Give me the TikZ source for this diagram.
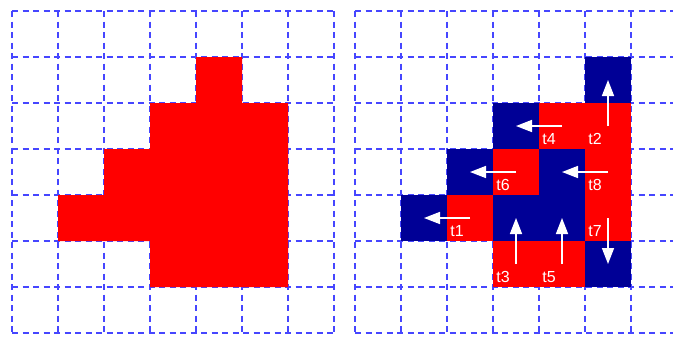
\documentclass[tikz,border=0pt]{standalone}
\usepackage{fontspec}
\setmainfont{Liberation Sans}
\usetikzlibrary{arrows.meta}
\definecolor{gridblue}{RGB}{70,70,255}
\definecolor{cellblue}{RGB}{0,0,150}
\definecolor{cellred}{RGB}{255,0,0}
\tikzset{
  gridline/.style={gridblue, line width=1.4pt, dash pattern=on 6pt off 4.5pt},
  redcell/.style={fill=cellred},
  bluecell/.style={fill=cellblue},
  movearrow/.style={white, line width=1.6pt, -{Triangle[length=16pt,width=12pt]}},
  tlabel/.style={white, font=\fontsize{16}{18}\selectfont, inner sep=0pt, anchor=center}
}
\begin{document}
\begin{tikzpicture}[x=1pt,y=-1pt]
\useasboundingbox (0,0) rectangle (673,338);
% ---------- left grid ----------
\foreach \i in {0,...,7} {
  \draw[gridline] (12+46*\i,11) -- (12+46*\i,333);
  \draw[gridline] (12,11+46*\i) -- (334,11+46*\i);
}
% ---------- right grid ----------
\foreach \i in {0,...,6} {
  \draw[gridline] (355+46*\i,11) -- (355+46*\i,333);
}
\foreach \i in {0,...,7} {
  \draw[gridline] (355,11+46*\i) -- (673,11+46*\i);
}
% ---------- left shape ----------
\fill[redcell] (12+46*4,11+46*1) -- (12+46*5,11+46*1) -- (12+46*5,11+46*2)
  -- (12+46*6,11+46*2) -- (12+46*6,11+46*6) -- (12+46*3,11+46*6)
  -- (12+46*3,11+46*5) -- (12+46*1,11+46*5) -- (12+46*1,11+46*4)
  -- (12+46*2,11+46*4) -- (12+46*2,11+46*3) -- (12+46*3,11+46*3)
  -- (12+46*3,11+46*2) -- (12+46*4,11+46*2) -- cycle;
% ---------- right shape cells ----------
\foreach \c/\r in {5/1, 3/2, 2/3, 4/3, 1/4, 3/4, 4/4, 5/5} {
  \fill[bluecell] (355+46*\c,11+46*\r) rectangle ++(46,46);
}
\foreach \c/\r in {4/2, 5/2, 3/3, 5/3, 2/4, 5/4, 3/5, 4/5} {
  \fill[redcell] (355+46*\c,11+46*\r) rectangle ++(46,46);
}
% cell centres
\foreach \c in {1,...,5} {
  \foreach \r in {1,...,5} {
    \coordinate (p\c\r) at (378+46*\c,34+46*\r);
  }
}
% ---------- moves ----------
\draw[movearrow] (p24) -- (p14);
\draw[movearrow] (p52) -- (p51);
\draw[movearrow] (p35) -- (p34);
\draw[movearrow] (p42) -- (p32);
\draw[movearrow] (p45) -- (p44);
\draw[movearrow] (p33) -- (p23);
\draw[movearrow] (p54) -- (p55);
\draw[movearrow] (p53) -- (p43);
% ---------- labels ----------
\node[tlabel] (l1) at ([shift={(-13,13)}]p24) {t1};
\node[tlabel] (l2) at ([shift={(-13,13)}]p52) {t2};
\node[tlabel] (l3) at ([shift={(-13,13)}]p35) {t3};
\node[tlabel] (l4) at ([shift={(-13,13)}]p42) {t4};
\node[tlabel] (l5) at ([shift={(-13,13)}]p45) {t5};
\node[tlabel] (l6) at ([shift={(-13,13)}]p33) {t6};
\node[tlabel] (l7) at ([shift={(-13,13)}]p54) {t7};
\node[tlabel] (l8) at ([shift={(-13,13)}]p53) {t8};
\end{tikzpicture}
\end{document}
